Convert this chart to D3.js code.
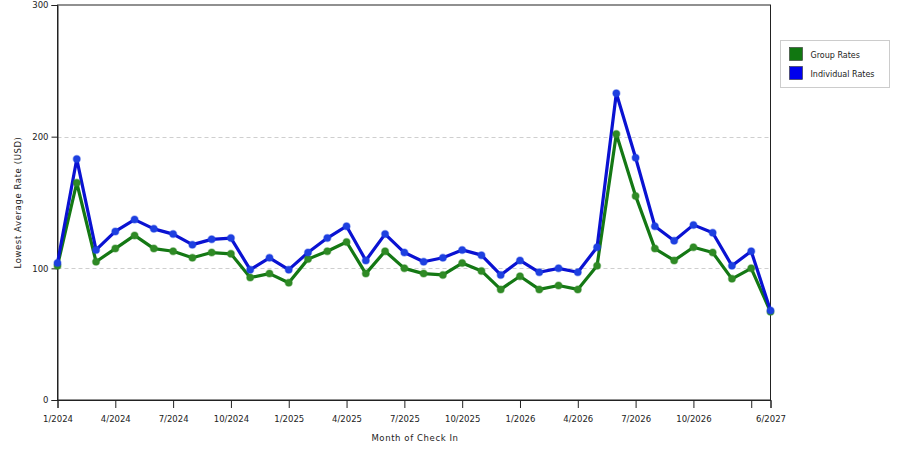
<!DOCTYPE html>
<html>
<head>
<meta charset="utf-8">
<script src="https://cdn.jsdelivr.net/npm/d3@7"></script>
<style>
  body { margin: 0; background: #fff; }
  svg text { font-family: "DejaVu Sans", Verdana, sans-serif; fill: #222; }
</style>
</head>
<body>
<div id="chart"></div>
<script>
// month labels, one per data point (the last point is labelled 6/2027 in the source)
const months = [
  "1/2024", "2/2024", "3/2024", "4/2024", "5/2024", "6/2024", "7/2024", "8/2024", "9/2024", "10/2024", "11/2024", "12/2024",
  "1/2025", "2/2025", "3/2025", "4/2025", "5/2025", "6/2025", "7/2025", "8/2025", "9/2025", "10/2025", "11/2025", "12/2025",
  "1/2026", "2/2026", "3/2026", "4/2026", "5/2026", "6/2026", "7/2026", "8/2026", "9/2026", "10/2026", "11/2026", "12/2026",
  "1/2027", "6/2027"
];

const groupRates = [
  102, 165, 105, 115, 125, 115, 113, 108, 112, 111, 93, 96,
  89, 107, 113, 120, 96, 113, 100, 96, 95, 104, 98, 84,
  94, 84, 87, 84, 102, 202, 155, 115, 106, 116, 112, 92,
  100, 67
];

const individualRates = [
  104, 183, 114, 128, 137, 130, 126, 118, 122, 123, 99, 108,
  99, 112, 123, 132, 106, 126, 112, 105, 108, 114, 110, 95,
  106, 97, 100, 97, 116, 233, 184, 132, 121, 133, 127, 102,
  113, 68
];

const yTicks = [0, 100, 200, 300];
const tickIdx = [0, 3, 6, 9, 12, 15, 18, 21, 24, 27, 30, 33, 36, 37];
const unlabeled = [36];

const series = [
  { name: "Group Rates", values: groupRates, color: "#147814", marker: "#2f8a25", legend: "#117711" },
  { name: "Individual Rates", values: individualRates, color: "#0a12d2", marker: "#1e40e0", legend: "#0000ee" }
];

const width = 900, height = 450;
const margin = { left: 57.5, right: 130, top: 5, bottom: 50 };

const svg = d3.select("#chart").append("svg")
  .attr("width", width)
  .attr("height", height);

const x = d3.scalePoint()
  .domain(d3.range(months.length))
  .range([margin.left, width - margin.right + 0.5]);

const y = d3.scaleLinear()
  .domain([0, 300])
  .range([height - margin.bottom, margin.top]);

// grid
svg.append("g")
  .selectAll("line")
  .data(yTicks.filter(d => d > 0 && d < 300))
  .join("line")
  .attr("x1", margin.left)
  .attr("x2", x.range()[1])
  .attr("y1", d => Math.round(y(d)) + 0.5)
  .attr("y2", d => Math.round(y(d)) + 0.5)
  .attr("stroke", "#cfcfcf")
  .attr("stroke-dasharray", "4,3");

// frame
svg.append("rect")
  .attr("x", margin.left)
  .attr("y", margin.top)
  .attr("width", x.range()[1] - margin.left)
  .attr("height", y(0) - margin.top)
  .attr("fill", "none")
  .attr("stroke", "#222");

// y axis
const yAxis = svg.append("g")
  .attr("transform", `translate(${margin.left},0)`)
  .call(d3.axisLeft(y).tickValues(yTicks).tickSize(6).tickPadding(3));
yAxis.select(".domain").attr("stroke", "#222");
yAxis.selectAll(".tick line").attr("stroke", "#222");
yAxis.selectAll(".tick text").style("font-size", "8.5px").attr("fill", "#222");

// x axis
const xAxis = svg.append("g")
  .attr("transform", `translate(0,${y(0)})`)
  .call(d3.axisBottom(x)
    .tickValues(tickIdx)
    .tickSize(8)
    .tickPadding(8)
    .tickFormat(i => unlabeled.includes(i) ? "" : months[i]));
xAxis.select(".domain").attr("stroke", "#222");
xAxis.selectAll(".tick line").attr("stroke", "#222");
xAxis.selectAll(".tick text").style("font-size", "8.5px").attr("fill", "#222");

// axis titles
svg.append("text")
  .attr("x", 415)
  .attr("y", 441)
  .attr("text-anchor", "middle")
  .style("font-size", "8.5px")
  .style("letter-spacing", "0.6px")
  .text("Month of Check In");

svg.append("text")
  .attr("transform", `translate(21,${(margin.top + y(0)) / 2}) rotate(-90)`)
  .attr("text-anchor", "middle")
  .style("font-size", "8.5px")
  .style("letter-spacing", "0.6px")
  .text("Lowest Average Rate (USD)");

// lines
const line = d3.line()
  .x((d, i) => x(i))
  .y(d => y(d));

series.forEach(s => {
  svg.append("path")
    .datum(s.values)
    .attr("fill", "none")
    .attr("stroke", s.color)
    .attr("stroke-width", 3.2)
    .attr("stroke-linejoin", "round")
    .attr("d", line);
});

series.forEach(s => {
  svg.append("g")
    .selectAll("circle")
    .data(s.values)
    .join("circle")
    .attr("cx", (d, i) => x(i))
    .attr("cy", d => y(d))
    .attr("r", 3.5)
    .attr("fill", s.marker)
    .attr("stroke", s.marker)
    .attr("stroke-opacity", 0.4)
    .attr("stroke-width", 1.5);
});

// legend
const legend = svg.append("g").attr("transform", "translate(780.5,40.5)");
legend.append("rect")
  .attr("width", 109)
  .attr("height", 47)
  .attr("fill", "#fff")
  .attr("stroke", "#cccccc");

series.forEach((s, i) => {
  const row = legend.append("g").attr("transform", `translate(9,${7 + i * 19})`);
  row.append("rect")
    .attr("width", 13)
    .attr("height", 13)
    .attr("fill", s.legend)
    .attr("stroke", "#333")
    .attr("stroke-width", 0.6);
  row.append("text")
    .attr("x", 21)
    .attr("y", 10)
    .style("font-size", "8px")
    .text(s.name);
});
</script>
</body>
</html>
